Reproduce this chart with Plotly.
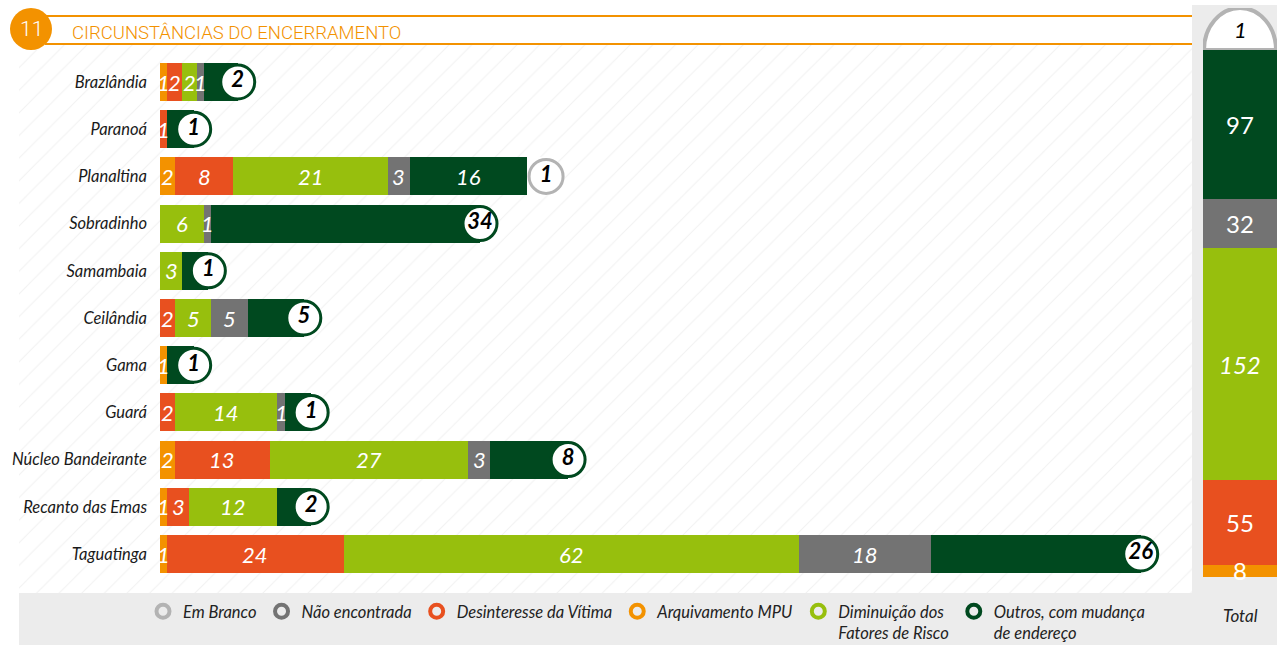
import plotly.graph_objects as go

# ---------------- data ----------------
categories = ["Brazlândia", "Paranoá", "Planaltina", "Sobradinho", "Samambaia", "Ceilândia",
              "Gama", "Guará", "Núcleo Bandeirante", "Recanto das Emas", "Taguatinga"]
arquivamento_mpu = [1, 0, 2, 0, 0, 0, 1, 0, 2, 1, 1]
desinteresse_vitima = [2, 1, 8, 0, 0, 2, 0, 2, 13, 3, 24]
diminuicao_risco = [2, 0, 21, 6, 3, 5, 0, 14, 27, 12, 62]
nao_encontrada = [1, 0, 3, 1, 0, 5, 0, 1, 3, 0, 18]
outros_mudanca = [2, 1, 16, 34, 1, 5, 1, 1, 8, 2, 26]
em_branco = [0, 0, 1, 0, 0, 0, 0, 0, 0, 0, 0]

total_labels = ["Arquivamento MPU", "Desinteresse da Vítima", "Diminuição dos Fatores de Risco",
                "Não encontrada", "Outros, com mudança de endereço", "Em Branco"]
total_values = [8, 55, 152, 32, 97, 1]

# ---------------- style ----------------
W, H = 1277, 645
C_ORANGE = "#F39200"
C_RED = "#E8501F"
C_GREEN = "#97BF0D"
C_GRAY = "#737373"
C_DARK = "#00491F"
C_BLANK = "#B3B3B3"
C_PANEL = "#ECECEC"
FONT = "Lato"

def fx(p):
    return p / W

def fy(p):
    return 1 - p / H

series = [
    ("Arquivamento MPU", arquivamento_mpu, C_ORANGE),
    ("Desinteresse da Vítima", desinteresse_vitima, C_RED),
    ("Diminuição dos Fatores de Risco", diminuicao_risco, C_GREEN),
    ("Não encontrada", nao_encontrada, C_GRAY),
    ("Outros, com mudança de endereço", outros_mudanca, C_DARK),
    ("Em Branco", em_branco, "white"),
]

# main plot geometry
PLOT_L, PLOT_R = 160, 1190
X_MAX = 140.3
px_per_unit = (PLOT_R - PLOT_L) / X_MAX
CAP_R_PX = 19
cap_units = CAP_R_PX / px_per_unit

n = len(categories)
totals = [sum(s[1][i] for s in series) for i in range(n)]
last_idx = [max(k for k, s in enumerate(series) if s[1][i] > 0) for i in range(n)]

fig = go.Figure()

# background hatch
fig.add_trace(go.Bar(
    x=[1], y=[0], orientation="h", width=1, xaxis="x", yaxis="y",
    marker=dict(color="white", line=dict(width=0),
                pattern=dict(shape="/", fgcolor="#E4E4E4", bgcolor="white", size=16, solidity=0.07)),
    hoverinfo="skip", showlegend=False))

annotations = []

# main stacked bars
cum = [0] * n
for k, (name, vals, col) in enumerate(series):
    fig.add_trace(go.Bar(
        x=vals, y=categories, orientation="h", name=name, xaxis="x2", yaxis="y2",
        marker=dict(color=col, line=dict(width=0)),
        hoverinfo="skip", showlegend=False))
    for i, v in enumerate(vals):
        if v > 0 and last_idx[i] != k:
            annotations.append(dict(
                x=cum[i] + v / 2, y=categories[i], xref="x2", yref="y2", text=str(v),
                xanchor="center", yanchor="middle",
                showarrow=False, font=dict(family=FONT, size=22, color="white", style="italic")))
        cum[i] += v

# cap under the end circles
is_blank_end = [series[last_idx[i]][0] == "Em Branco" for i in range(n)]
cap_colors = ["white" if b else C_DARK for b in is_blank_end]
fig.add_trace(go.Bar(
    x=[cap_units] * n, y=categories, orientation="h", xaxis="x2", yaxis="y2",
    marker=dict(color=cap_colors, line=dict(width=0)), hoverinfo="skip", showlegend=False))

# end circles with last value
circle_lines = [C_BLANK if b else C_DARK for b in is_blank_end]
circle_text = [str(series[last_idx[i]][1][i]) for i in range(n)]
circle_x = [totals[i] - em_branco[i] + cap_units for i in range(n)]
fig.add_trace(go.Scatter(
    x=circle_x, y=categories, xaxis="x2", yaxis="y2",
    mode="markers+text", text=circle_text, textposition="middle center",
    textfont=dict(family=FONT, size=22, color="black", style="italic", weight="bold"),
    marker=dict(size=34, color="white", line=dict(color=circle_lines, width=3)),
    hoverinfo="skip", showlegend=False, cliponaxis=False))

# legend dummies
legend_items = [
    ("Em Branco", C_BLANK),
    ("Não encontrada", C_GRAY),
    ("Desinteresse da Vítima", C_RED),
    ("Arquivamento MPU", C_ORANGE),
    ("Diminuição dos<br>Fatores de Risco", C_GREEN),
    ("Outros, com mudança<br>de endereço", C_DARK),
]
for name, col in legend_items:
    fig.add_trace(go.Scatter(
        x=[None], y=[None], xaxis="x2", yaxis="y2", mode="markers", name=name,
        marker=dict(size=13, color=C_PANEL, line=dict(color=col, width=4)),
        showlegend=True))

# total column
tot_colors = [C_ORANGE, C_RED, C_GREEN, C_GRAY, C_DARK, C_BLANK]
for name, v, col in zip(total_labels, total_values, tot_colors):
    fig.add_trace(go.Bar(
        x=[0], y=[v], width=1, xaxis="x3", yaxis="y3",
        marker=dict(color=col, line=dict(width=0)), hoverinfo="skip", showlegend=False))

c = 0
for name, v in zip(total_labels, total_values):
    mid = c + v / 2
    c += v
    if name == "Em Branco":
        annotations.append(dict(x=0, y=c - v, xref="x3", yref="y3", text=str(v), showarrow=False,
                                xanchor="center", yanchor="middle", yshift=20,
                                font=dict(family=FONT, size=22, color="black", style="italic")))
        continue
    annotations.append(dict(x=0, y=mid, xref="x3", yref="y3", text=str(v), showarrow=False,
                            xanchor="center", yanchor="middle",
                            font=dict(family=FONT, size=24, color="white",
                                      style="italic" if v == 152 else "normal")))

annotations += [
    dict(x=fx(31), y=fy(29), xref="paper", yref="paper", text="11", showarrow=False,
         xanchor="center", yanchor="middle",
         font=dict(family="Roboto", size=21, color="white", weight=300)),
    dict(x=fx(70), y=fy(33), xref="paper", yref="paper", text="CIRCUNSTÂNCIAS DO ENCERRAMENTO",
         showarrow=False, xanchor="left", yanchor="middle",
         font=dict(family="Roboto", size=18.5, color=C_ORANGE, weight=300)),
    dict(x=fx(1240), y=fy(615), xref="paper", yref="paper", text="Total", showarrow=False,
         xanchor="center", yanchor="middle",
         font=dict(family=FONT, size=17, color="#222222", style="italic")),
]

shapes = [
    dict(type="rect", xref="paper", yref="paper", x0=fx(1192), x1=1, y0=0, y1=fy(5),
         fillcolor=C_PANEL, line=dict(width=0), layer="below"),
    dict(type="rect", xref="paper", yref="paper", x0=fx(19), x1=1, y0=0, y1=fy(593),
         fillcolor=C_PANEL, line=dict(width=0), layer="below"),
    dict(type="line", xref="paper", yref="paper", x0=fx(40), x1=fx(1192), y0=fy(16), y1=fy(16),
         line=dict(color=C_ORANGE, width=2)),
    dict(type="line", xref="paper", yref="paper", x0=fx(45), x1=fx(1192), y0=fy(44), y1=fy(44),
         line=dict(color=C_ORANGE, width=2)),
    dict(type="circle", xref="paper", yref="paper", x0=fx(10), x1=fx(52), y0=fy(50), y1=fy(8),
         fillcolor=C_ORANGE, line=dict(width=0)),
    dict(type="circle", xref="x3", yref="y3", xsizemode="pixel", ysizemode="pixel",
         xanchor=0, yanchor=sum(total_values[:-1]), x0=-36, x1=36, y0=-42, y1=42,
         fillcolor="white", line=dict(color=C_BLANK, width=4), layer="below"),
]

fig.update_layout(
    width=W, height=H, autosize=False,
    margin=dict(l=0, r=0, t=0, b=0, autoexpand=False),
    paper_bgcolor="white", plot_bgcolor="rgba(0,0,0,0)",
    barmode="stack", bargap=0.195,
    showlegend=True,
    legend=dict(orientation="h", x=fx(143), y=fy(594), xanchor="left", yanchor="top",
                bgcolor="rgba(0,0,0,0)", valign="top", traceorder="normal",
                font=dict(family=FONT, size=16.5, color="#222222", style="italic")),
    xaxis=dict(domain=[fx(19), fx(1192)], range=[0, 1], visible=False, fixedrange=True),
    yaxis=dict(domain=[fy(593), fy(45)], range=[-0.5, 0.5], visible=False, fixedrange=True),
    xaxis2=dict(domain=[fx(PLOT_L), fx(PLOT_R)], range=[0, X_MAX], visible=False, anchor="y2"),
    yaxis2=dict(domain=[fy(577.6), fy(58.4)], type="category", categoryorder="array",
                categoryarray=categories, range=[n - 0.5, -0.5], anchor="x2",
                showgrid=False, zeroline=False, showline=False, ticks="", ticklabelstandoff=12,
                tickfont=dict(family=FONT, size=16.5, color="#1a1a1a", style="italic")),
    xaxis3=dict(domain=[fx(1203), 1], range=[-0.5, 0.5], visible=False, anchor="y3"),
    yaxis3=dict(domain=[fy(577), fy(8)], range=[0, 569 / 1.532], visible=False, anchor="x3"),
    annotations=annotations,
    shapes=shapes,
)

fig.write_html("out.html", config={"displayModeBar": False},
               post_script="document.body.style.margin='0px';document.body.style.overflow='hidden';")
